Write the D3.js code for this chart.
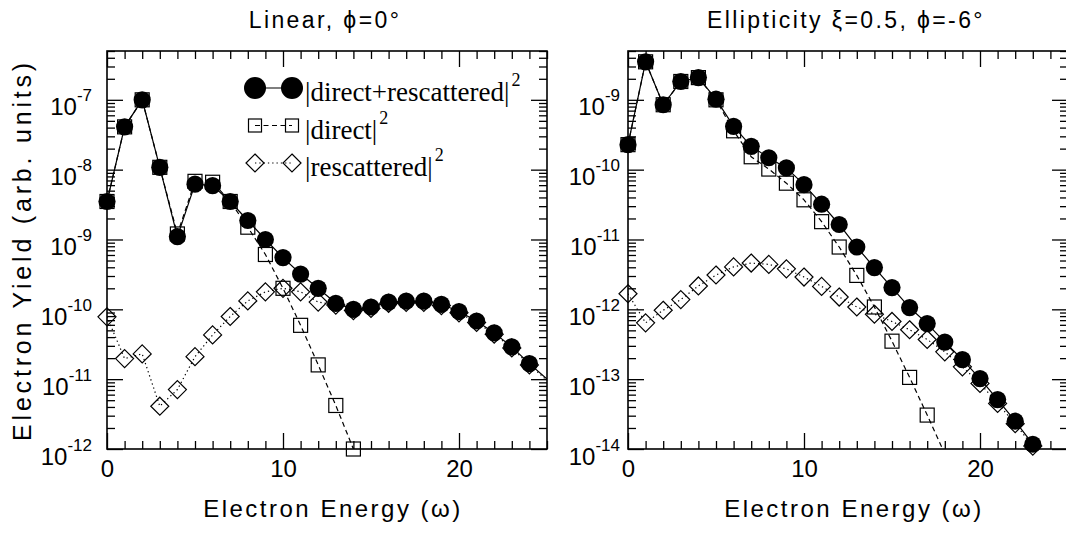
<!DOCTYPE html>
<html><head><meta charset="utf-8">
<script src="https://cdn.jsdelivr.net/npm/d3@7"></script>
<style>body{margin:0;background:#fff}svg{display:block}</style>
</head><body>
<svg id="c" width="1066" height="533"></svg>
<script>
// ---------- data ----------
const energies = d3.range(0, 26);            // electron energy in units of ω
const xTicksMajor = [0, 10, 20];
const legendLabels = ["|direct+rescattered|", "|direct|", "|rescattered|"];
const panelTitles = ["Linear, \u03D5=0\u00B0", "Ellipticity \u03BE=0.5, \u03D5=-6\u00B0"];

// Left panel (linear)
const linFull = [3.5e-9, 4.1e-8, 1.0e-7, 1.08e-8, 1.1e-9, 6.2e-9, 5.9e-9, 3.5e-9, 1.87e-9, 1.0e-9,
  5.5e-10, 3.2e-10, 2.0e-10, 1.22e-10, 1.0e-10, 1.08e-10, 1.27e-10, 1.31e-10, 1.31e-10, 1.18e-10,
  9.3e-11, 6.8e-11, 4.6e-11, 2.9e-11, 1.67e-11, 1.0e-11];
const linDirect = [3.5e-9, 4.1e-8, 1.0e-7, 1.08e-8, 1.2e-9, 6.8e-9, 6.6e-9, 3.5e-9, 1.5e-9, 6.1e-10,
  2.0e-10, 5.9e-11, 1.6e-11, 4.2e-12, 1.0e-12];
const linResc = [7.8e-11, 1.97e-11, 2.3e-11, 4.1e-12, 7.1e-12, 2.1e-11, 4.3e-11, 7.9e-11, 1.32e-10, 1.78e-10,
  2.0e-10, 1.78e-10, 1.27e-10, 1.15e-10, 0.96e-10, 1.03e-10, 1.22e-10, 1.26e-10, 1.26e-10, 1.13e-10,
  8.9e-11, 6.5e-11, 4.4e-11, 2.8e-11, 1.6e-11, 0.96e-11];
const linYTicks = [-12, -11, -10, -9, -8, -7];

// Right panel (elliptical)
const ellFull = [2.28e-10, 3.5e-9, 8.5e-10, 1.83e-9, 2.08e-9, 1.02e-9, 4.16e-10, 2.16e-10, 1.48e-10, 1.06e-10,
  6.1e-11, 3.2e-11, 1.64e-11, 7.8e-12, 3.96e-12, 2.05e-12, 1.06e-12, 6.25e-13, 3.4e-13, 1.9e-13,
  1.02e-13, 5.1e-14, 2.5e-14, 1.17e-14];
const ellDirect = [2.28e-10, 3.5e-9, 8.5e-10, 1.83e-9, 2.08e-9, 1.0e-9, 3.6e-10, 1.53e-10, 1.02e-10, 6.4e-11,
  3.7e-11, 1.8e-11, 7.8e-12, 3.06e-12, 1.08e-12, 3.5e-13, 1.06e-13, 3.06e-14, 8.5e-15];
const ellResc = [1.67e-12, 6.4e-13, 9.7e-13, 1.38e-12, 2.16e-12, 3.1e-12, 4.05e-12, 4.6e-12, 4.4e-12, 3.8e-12,
  2.9e-12, 2.13e-12, 1.5e-12, 1.08e-12, 8.5e-13, 6.7e-13, 5.1e-13, 3.7e-13, 2.46e-13, 1.5e-13,
  8.7e-14, 4.5e-14, 2.3e-14, 1.1e-14];
const ellYTicks = [-14, -13, -12, -11, -10, -9];

// ---------- layout ----------
const svg = d3.select("#c");
const FONT = "'Liberation Sans', Arial, Helvetica, sans-serif";
const SERIF = "'Liberation Serif', 'Times New Roman', serif";

const panels = [
  {left:107, right:547, top:51, bottom:449, ydom:[1e-12, 5e-7], yt:linYTicks, lblGap:15,
   series:[linFull, linDirect, linResc], title:panelTitles[0], legend:true},
  {left:628, right:1068, top:51, bottom:449, ydom:[1e-14, 5e-9], yt:ellYTicks, lblGap:8,
   series:[ellFull, ellDirect, ellResc], title:panelTitles[1], legend:false}
];

const styles = [
  {dash:null, marker:"circle"},
  {dash:"5,3.5", marker:"square"},
  {dash:"1.3,3", marker:"diamond"}
];

function drawMarker(g, type, cx, cy, big) {
  if (type === "circle") {
    g.append("circle").attr("cx", cx).attr("cy", cy).attr("r", big ? 11 : 8.6).attr("fill", "#000");
  } else if (type === "square") {
    const s = big ? 13 : 14;
    g.append("rect").attr("x", cx - s/2).attr("y", cy - s/2).attr("width", s).attr("height", s)
      .attr("fill", "none").attr("stroke", "#000").attr("stroke-width", 1.2);
  } else {
    const r = 9;
    g.append("path").attr("d", `M${cx},${cy-r}L${cx+r},${cy}L${cx},${cy+r}L${cx-r},${cy}Z`)
      .attr("fill", "none").attr("stroke", "#000").attr("stroke-width", 1.2);
  }
}

panels.forEach((p, pi) => {
  const x = d3.scaleLinear().domain([0, 25]).range([p.left, p.right]);
  const y = d3.scaleLog().domain(p.ydom).range([p.bottom, p.top]);
  const g = svg.append("g");

  const clipId = "clip" + pi;
  svg.append("clipPath").attr("id", clipId).append("rect")
    .attr("x", p.left).attr("y", p.top).attr("width", p.right - p.left).attr("height", p.bottom - p.top);

  // minor y ticks
  const lo = Math.floor(Math.log10(p.ydom[0])), hi = Math.ceil(Math.log10(p.ydom[1]));
  const minorY = [];
  for (let e = lo; e <= hi; e++) for (let m = 2; m <= 9; m++) {
    const v = m * Math.pow(10, e);
    if (v > p.ydom[0] && v <= p.ydom[1] * 1.0001) minorY.push(v);
  }
  const majorY = p.yt.map(e => Math.pow(10, e));
  const minorX = d3.range(0, 26).filter(v => xTicksMajor.indexOf(v) < 0);

  const axisStyle = sel => { sel.selectAll(".domain").remove(); sel.selectAll("line").attr("stroke", "#000").attr("stroke-width", 1.3); };

  // left axis major with labels
  const gl = g.append("g").attr("transform", `translate(${p.left},0)`)
    .call(d3.axisLeft(y).tickValues(majorY).tickSize(-16).tickSizeOuter(0).tickPadding(p.lblGap).tickFormat(""));
  axisStyle(gl);
  gl.selectAll(".tick text").each(function(d) {
    const t = d3.select(this);
    const e = Math.round(Math.log10(d));
    t.attr("dy", null).attr("y", 15).attr("font-family", FONT).attr("font-size", 24).attr("fill", "#000").attr("text-anchor", "end");
    t.append("tspan").text("10");
    t.append("tspan").attr("dy", -14).attr("font-size", 17).text(String(e));
  });
  g.append("g").attr("transform", `translate(${p.left},0)`)
    .call(d3.axisLeft(y).tickValues(minorY).tickSize(-8).tickSizeOuter(0).tickFormat("")).call(axisStyle);
  // right axis mirror
  g.append("g").attr("transform", `translate(${p.right},0)`)
    .call(d3.axisRight(y).tickValues(majorY).tickSize(-16).tickSizeOuter(0).tickFormat("")).call(axisStyle);
  g.append("g").attr("transform", `translate(${p.right},0)`)
    .call(d3.axisRight(y).tickValues(minorY).tickSize(-8).tickSizeOuter(0).tickFormat("")).call(axisStyle);

  // bottom axis
  const gb = g.append("g").attr("transform", `translate(0,${p.bottom})`)
    .call(d3.axisBottom(x).tickValues(xTicksMajor).tickSize(-16).tickSizeOuter(0).tickPadding(10).tickFormat(d3.format("d")));
  axisStyle(gb);
  gb.selectAll(".tick text").attr("dy", null).attr("y", 28).attr("font-family", FONT).attr("font-size", 24).attr("fill", "#000");
  g.append("g").attr("transform", `translate(0,${p.bottom})`)
    .call(d3.axisBottom(x).tickValues(minorX).tickSize(-8).tickSizeOuter(0).tickFormat("")).call(axisStyle);
  // top axis mirror
  g.append("g").attr("transform", `translate(0,${p.top})`)
    .call(d3.axisTop(x).tickValues(xTicksMajor).tickSize(-16).tickSizeOuter(0).tickFormat("")).call(axisStyle);
  g.append("g").attr("transform", `translate(0,${p.top})`)
    .call(d3.axisTop(x).tickValues(minorX).tickSize(-8).tickSizeOuter(0).tickFormat("")).call(axisStyle);

  // frame
  g.append("rect").attr("x", p.left).attr("y", p.top).attr("width", p.right - p.left).attr("height", p.bottom - p.top)
    .attr("fill", "none").attr("stroke", "#000").attr("stroke-width", 1.6);

  // series: draw direct, rescattered, then full on top
  [1, 2, 0].forEach(si => {
    const vals = p.series[si];
    const pts = vals.map((v, i) => [energies[i], v]);
    const line = d3.line().x(d => x(d[0])).y(d => y(d[1]));
    g.append("path").attr("d", line(pts)).attr("fill", "none").attr("stroke", "#000")
      .attr("stroke-width", 1.2).attr("stroke-dasharray", styles[si].dash).attr("clip-path", `url(#${clipId})`);
    const mg = g.append("g");
    pts.filter(d => d[0] >= 0 && d[0] < 25 && d[1] >= p.ydom[0] * 0.999 && d[1] <= p.ydom[1])
      .forEach(d => drawMarker(mg, styles[si].marker, x(d[0]), y(d[1]), false));
  });

  // title
  svg.append("text").attr("x", (p.left + p.right) / 2 - 2).attr("y", 28).attr("text-anchor", "middle")
    .attr("font-family", FONT).attr("font-size", 23).attr("letter-spacing", 2.4).text(p.title);
  // x label
  svg.append("text").attr("x", (p.left + p.right) / 2 + 6).attr("y", 517).attr("text-anchor", "middle")
    .attr("font-family", FONT).attr("font-size", 24).attr("letter-spacing", 2.5).text("Electron Energy (\u03C9)");

  if (p.legend) {
    const rows = [88, 125.5, 163];
    rows.forEach((ry, k) => {
      const lg = svg.append("g");
      lg.append("line").attr("x1", 255).attr("x2", 292).attr("y1", ry).attr("y2", ry)
        .attr("stroke", "#000").attr("stroke-width", 1.2).attr("stroke-dasharray", styles[k].dash);
      drawMarker(lg, styles[k].marker, 255, ry, true);
      drawMarker(lg, styles[k].marker, 292, ry, true);
      const t = lg.append("text").attr("x", 305).attr("y", ry + 13).attr("font-family", SERIF).attr("font-size", 27);
      t.append("tspan").text(legendLabels[k]);
      t.append("tspan").attr("dy", -15).attr("dx", 2).attr("font-size", 18).text("2");
    });
  }
});

// y label
svg.append("text").attr("transform", "translate(31,250) rotate(-90)").attr("text-anchor", "middle")
  .attr("font-family", FONT).attr("font-size", 25).attr("letter-spacing", 3.8).text("Electron Yield (arb. units)");
</script>
</body></html>
